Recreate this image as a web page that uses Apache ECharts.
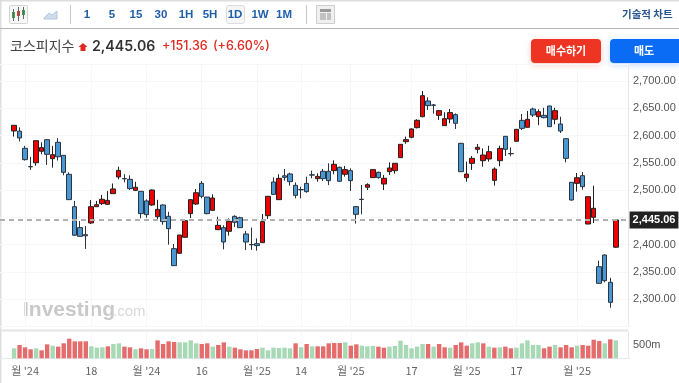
<!DOCTYPE html>
<html>
<head>
<meta charset="utf-8">
<script src="https://cdn.jsdelivr.net/npm/echarts@6/dist/echarts.min.js"></script>
<style>
  html, body { margin: 0; padding: 0; background: #fff; overflow: hidden; }
  #chart { width: 679px; height: 383px; }
</style>
</head>
<body>
<div id="chart"></div>
<script>
const opens = [2608.3,2608,2576.5,2543,2550,2571,2592.4,2557.5,2587.5,2563.6,2528.8,2469.4,2431,2418,2439.5,2469.4,2475,2473.7,2493.3,2523.9,2521,2519.6,2499.4,2497.6,2480,2472.5,2451,2472.5,2451.7,2392.4,2383.8,2413.2,2456.6,2474.3,2512.2,2487,2462.7,2427.2,2430.9,2424.2,2451.7,2449.2,2419.3,2400,2401.5,2403.4,2452.9,2514.7,2482.3,2526,2529.4,2508.6,2500.9,2512.2,2527.8,2520.8,2534.3,2534.3,2535.5,2541.6,2528.8,2535.5,2469.5,2483,2505,2522.7,2532.5,2511,2533.7,2535.5,2559.4,2588.7,2596.7,2614.4,2634.6,2663.3,2656,2637,2618.1,2630.3,2638.3,2585.6,2522.6,2548.9,2574.6,2553.8,2556.9,2517.7,2553.8,2598.5,2566.9,2589.3,2627.8,2615,2648.6,2634.5,2637,2654.1,2629.7,2621.1,2594.2,2514.1,2512.2,2526.3,2437.6,2449.8,2359.3,2380.7,2330.6,2395]
const closes = [2618.7,2595.4,2555.7,2542.5,2590.5,2577.7,2565.5,2564.8,2561,2532.4,2482.3,2417,2415,2416,2469.4,2473,2483,2481,2501.9,2536,2520.5,2502.5,2505,2456.6,2454.8,2500,2464.5,2442,2429,2361.2,2417.4,2443.7,2482.3,2495,2488.4,2456.6,2485.3,2435.2,2404.6,2442.5,2440.7,2430.9,2404.6,2399.5,2398,2441.9,2488.4,2492,2521.4,2523.2,2515.3,2490.2,2500.3,2497,2527.3,2525,2520.8,2517.2,2547.1,2516,2537.4,2517.2,2455.4,2482.5,2509.8,2537.4,2522.7,2521.5,2540.4,2549,2583.8,2592.4,2612,2627.9,2673.1,2654.8,2655.5,2645.6,2630.9,2642,2622.4,2533.6,2529.3,2558.1,2578.3,2564.2,2570.3,2538.5,2576.4,2574.6,2566.5,2611.3,2613.1,2629.7,2637.6,2643.7,2632.7,2616.2,2645.6,2608.2,2558.1,2481.6,2522.6,2506.1,2487.8,2466.4,2328.8,2333.6,2293.9,2445.06]
const lows = [2598,2589,2554,2536.7,2544.7,2565.5,2546,2541,2554,2527,2482,2416,2414,2392,2437.6,2469,2472.5,2473,2492.7,2519.6,2514,2500,2498,2448,2449,2471,2444,2436.4,2399.7,2360.6,2383.2,2412.5,2448.6,2472.5,2484.7,2455.4,2461.5,2426.6,2391.1,2416.2,2432,2430.5,2390,2390,2388.7,2403,2446.8,2491.5,2481.7,2517,2508,2484.7,2484.7,2495,2521.5,2515.3,2516.6,2509,2528.8,2515.3,2524.5,2498.2,2438.3,2455.4,2500,2522,2520.8,2500,2527.6,2530,2559,2585,2595,2613,2633.4,2646.8,2640,2628.5,2617.5,2622.4,2612,2533,2515.3,2536.7,2567.3,2542.8,2552,2508,2543.4,2562.4,2561.8,2589,2610,2614.8,2634,2619,2631.5,2615.5,2620.5,2604.6,2550.8,2480.4,2497,2500.6,2437,2439.4,2328,2330.6,2284,2394]
const highs = [2619,2615,2581,2560.6,2590.5,2587.5,2593.6,2581,2595,2564,2532.4,2480,2443,2434,2481.7,2480,2491,2498,2512,2542.8,2528.8,2527,2515,2498,2483,2501,2482,2473.7,2460,2401,2417.5,2444.5,2482.5,2501.8,2516.5,2487.2,2492,2451,2435.2,2448,2453.5,2451,2424.8,2431,2411.3,2456,2489,2523.2,2528.8,2538.5,2531.8,2514,2506,2524.5,2535.5,2530.6,2538.6,2549,2554.5,2542.9,2544,2539.8,2470.7,2509.2,2512.3,2538,2533.7,2527.6,2550.8,2549.2,2584,2598,2613.2,2629.7,2681.7,2670,2657.8,2646.8,2642.5,2648.7,2640.7,2586.8,2552,2562.4,2584.4,2576.4,2581.3,2541.6,2581.3,2599.1,2578.3,2611.5,2639.4,2645,2651,2648,2651,2654.5,2651,2634.5,2594.5,2514.5,2531.2,2533,2488.2,2508,2370.3,2382,2339,2445.5]
const volumes = [375,500,413,338,375,300,525,475,438,563,738,638,638,638,450,400,413,450,538,563,438,413,338,375,338,350,675,538,638,613,600,600,675,563,538,563,438,500,600,438,400,338,300,300,350,400,300,400,388,400,375,563,413,538,450,450,450,563,575,575,600,475,525,475,450,463,438,400,438,463,663,500,375,438,538,538,438,538,413,400,500,600,475,563,600,563,438,400,413,438,375,400,563,675,500,500,375,438,500,413,500,413,475,500,475,700,650,563,713,675]
// 1 = red bar, 0 = green bar
const volumeSides = [0,1,1,1,0,1,1,0,1,1,1,1,1,1,0,0,0,1,0,0,1,1,0,1,1,0,1,1,1,1,0,0,0,0,1,1,0,1,1,0,1,1,1,1,1,0,0,0,0,0,0,1,0,1,0,1,1,1,1,1,0,1,1,0,0,0,1,1,0,0,0,0,0,0,0,1,0,1,1,0,1,1,1,0,0,1,0,1,0,1,1,0,0,0,0,0,1,1,0,1,1,1,0,1,1,1,1,0,1,0]
const tickIndexes = [2,14,24,34,44,52,61,72,82,91,102]
const tickLabels = ["월 '24","18","월 '24","16","월 '25","14","월 '25","17","월 '25","17","월 '25"]
const intervalButtons = ["1","5","15","30","1H","5H","1D","1W","1M"]
const lastPrice = 2445.06

// 2 empty bands on both sides so the first candle does not sit on the edge
const pad = 2
const categories = []
for (let i = 0; i < opens.length + pad * 2; i++) categories.push("")
tickIndexes.forEach((t, i) => { categories[t + pad] = tickLabels[i] })

const blanks = new Array(pad).fill("-")
const candleData = opens.map((o, i) => [o, closes[i], lows[i], highs[i]])
const volumeData = volumes.map((v, i) => ({
  value: v,
  itemStyle: { color: volumeSides[i] ? "#e56c6c" : "#a6d9b4" }
}))

const KR = '"Noto Sans CJK KR", sans-serif'
const faint = "#f6f7f9"

function text(x, y, str, font, fill, align) {
  return { type: "text", silent: true, style: { x, y, text: str, font, fill, textAlign: align || "left", textVerticalAlign: "middle" } }
}
function rect(x, y, w, h, fill, extra) {
  return Object.assign({ type: "rect", silent: true, shape: { x, y, width: w, height: h, r: (extra && extra.r) || 0 }, style: Object.assign({ fill }, extra && extra.style) }, extra && extra.z ? { z: extra.z } : {})
}

// toolbar, header, buttons and watermark
const chrome = [
  rect(0, 0, 679, 1.5, "#dedede"),
  rect(0, 0, 1.5, 383, "#dedede"),
  rect(0, 28, 679, 1, "#b5b5b5"),
  rect(9.5, 5.5, 18, 18, "#f7f7f7", { style: { stroke: "#d4d4d4" }, r: 1 }),
  rect(12, 12, 3, 6, "#3aa648"), rect(13, 9, 1, 12, "#666"),
  rect(17, 11, 3, 5, "#e03a2f"), rect(18, 7, 1, 14, "#666"),
  rect(22, 10, 3, 5, "#3aa648"), rect(23, 7, 1, 12, "#666"),
  { type: "polygon", silent: true, shape: { points: [[44,18],[49,13],[52,15],[57,11],[57,19],[44,19]] }, style: { fill: "#cfdcec", stroke: "#b4c7de" } },
  rect(70, 5, 1, 19, "#c8c8c8"),
  rect(226.5, 5.5, 18, 18, "#f5f5f5", { style: { stroke: "#dcdcdc" }, r: 2 }),
  rect(306, 5, 1, 19, "#c8c8c8"),
  rect(316.5, 5.5, 18, 18, "#f0f0f0", { style: { stroke: "#cfcfcf" } }),
  rect(320, 9, 11, 3, "#9a9a9a"), rect(320, 13, 6, 7, "#c2c2c2"), rect(327, 13, 4, 7, "#c2c2c2"),
  text(622, 14, "기술적 차트", "bold 10.5px " + KR, "#27558f"),
  text(10, 46, "코스피지수", "14px " + KR, "#444444"),
  { type: "polygon", silent: true, shape: { points: [[83,43],[87.5,47],[85.5,47],[85.5,51],[80.5,51],[80.5,47],[78.5,47]] }, style: { fill: "#e0281f" } },
  text(92, 47, "2,445.06", "600 14.2px Inter, sans-serif", "#333333"),
  text(162, 46, "+151.36", "500 12.5px Inter, sans-serif", "#e0281f"),
  text(213, 46, "(+6.60%)", "500 12.5px Inter, sans-serif", "#e0281f"),
  rect(531, 39, 70, 24, "#ee3524", { r: 4, style: { shadowBlur: 6, shadowColor: "rgba(238,53,36,0.25)", shadowOffsetY: 2 } }),
  text(566, 51, "매수하기", "bold 11px " + KR, "#ffffff", "center"),
  rect(610, 39, 72, 24, "#0a6cf5", { r: 4, style: { shadowBlur: 6, shadowColor: "rgba(10,108,245,0.25)", shadowOffsetY: 2 } }),
  text(644, 51, "매도", "bold 11px " + KR, "#ffffff", "center"),
  text(23, 310, "Investing", "bold 21px 'Liberation Sans', sans-serif", "#c9c9c9"),
  text(113, 312, ".com", "15px 'Liberation Sans', sans-serif", "#d8d8d8"),
  rect(2, 329.5, 626, 2, "#e4e4e4")
]
const buttonX = [87, 112, 136, 161, 186, 210, 235, 260, 284]
intervalButtons.forEach((b, i) => {
  chrome.push(text(buttonX[i], 14.5, b, "bold 11.5px 'Liberation Sans', sans-serif", "#1f5fa8", "center"))
})

const isTick = (i) => tickIndexes.includes(i - pad)
const splitX = { show: true, alignWithLabel: true, interval: (i) => isTick(i), lineStyle: { color: faint } }

const option = {
  animation: false,
  graphic: chrome,
  grid: [
    { left: -0.8, right: 49.4, top: 64.65, height: 261.6 },
    { left: -0.8, right: 49.4, top: 331.7, height: 26.6 }
  ],
  xAxis: [
    { type: "category", gridIndex: 0, data: categories, axisLine: { show: false }, axisTick: { show: false, alignWithLabel: true }, axisLabel: { show: false }, splitLine: splitX },
    {
      type: "category", gridIndex: 1, data: categories,
      axisLine: { lineStyle: { color: "#e6e8f0" } },
      axisTick: { show: false, alignWithLabel: true },
      axisLabel: { interval: 0, color: "#666666", fontFamily: KR, fontSize: 11, margin: 7 },
      splitLine: splitX
    }
  ],
  yAxis: [
    {
      gridIndex: 0, position: "right", offset: -1.6, scale: true, min: 2250, max: 2730, interval: 50,
      axisLine: { show: true, lineStyle: { color: "#e6e8f0" } },
      axisTick: { show: false },
      axisLabel: {
        color: "#555555", fontFamily: "'Liberation Sans', sans-serif", fontSize: 11, margin: 5,
        formatter: (v) => (v === 2250 || v > 2700) ? "" : v.toLocaleString("en-US", { minimumFractionDigits: 2 })
      },
      splitLine: { lineStyle: { color: faint } }
    },
    {
      gridIndex: 1, position: "right", offset: -1.6, min: 0, max: 1000, interval: 500,
      axisLine: { show: true, lineStyle: { color: "#e6e8f0" } },
      axisTick: { show: false },
      axisLabel: {
        color: "#555555", fontFamily: "'Liberation Sans', sans-serif", fontSize: 11, margin: 5,
        formatter: (v) => v === 500 ? "500m" : ""
      },
      splitLine: { show: false }
    }
  ],
  series: [
    {
      type: "candlestick",
      xAxisIndex: 0, yAxisIndex: 0,
      barWidth: 5,
      data: blanks.concat(candleData, blanks),
      itemStyle: { color: "#f20000", color0: "#4a98d3", borderColor: "#222222", borderColor0: "#2b3440", borderWidth: 1 },
      markLine: {
        silent: true, symbol: "none", animation: false,
        data: [{ yAxis: lastPrice }],
        lineStyle: { color: "#b0b0b0", type: [5, 4], width: 2 },
        label: {
          position: "end", distance: 0, formatter: "2,445.06", color: "#ffffff", backgroundColor: "#222222",
          fontFamily: "'Liberation Sans', sans-serif", fontSize: 11, fontWeight: "bold", padding: [3, 3, 3, 3]
        }
      }
    },
    {
      type: "bar",
      xAxisIndex: 1, yAxisIndex: 1,
      barWidth: 4.4,
      data: blanks.concat(volumeData, blanks)
    }
  ]
}

const chart = echarts.init(document.getElementById("chart"))
chart.setOption(option)
</script>
</body>
</html>
